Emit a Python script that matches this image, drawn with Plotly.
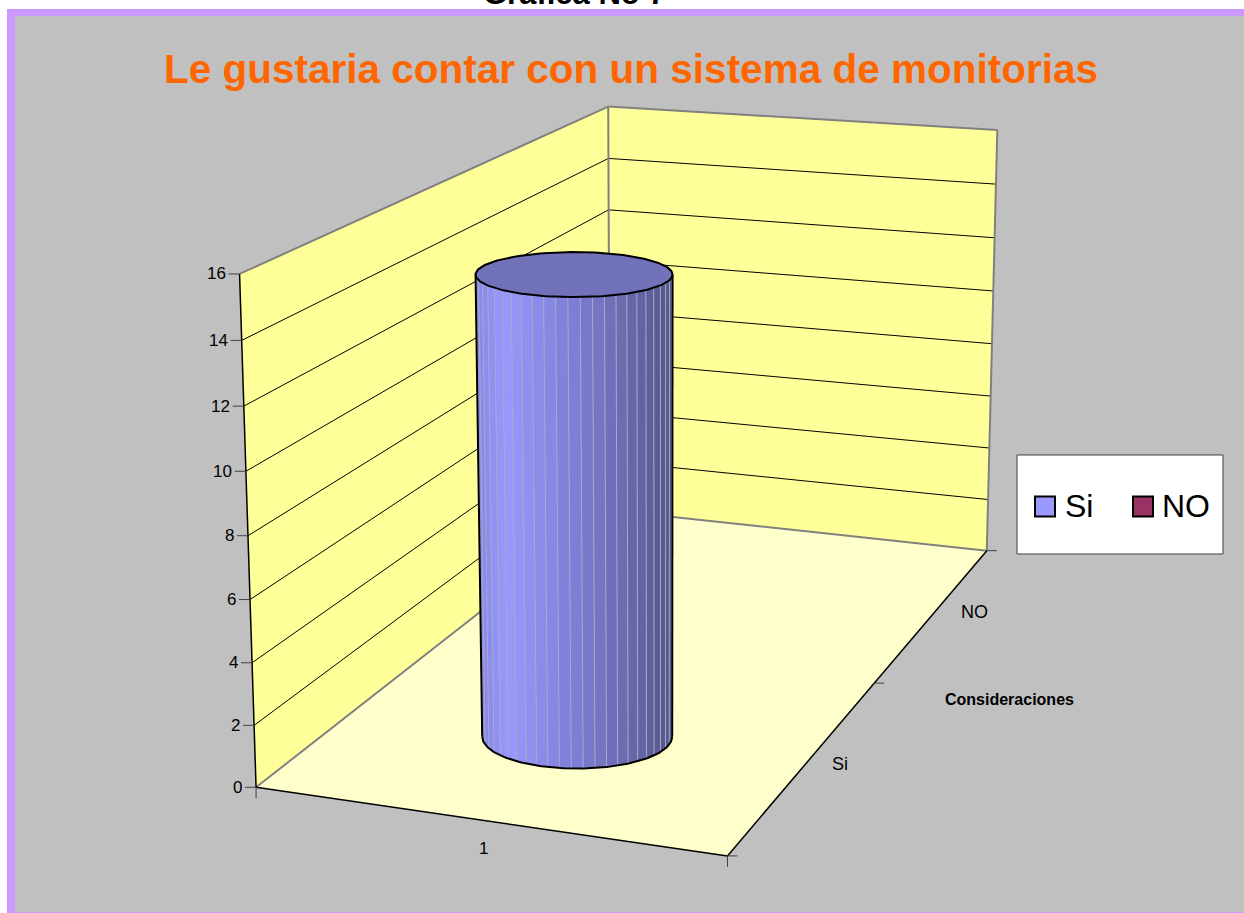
import numpy as np
import plotly.graph_objects as go

# ---- chart data -------------------------------------------------------
title_text = "Le gustaria contar con un sistema de monitorias"
page_heading = "Gráfica No 7"
series_names = ["Si", "NO"]
series_values = [15, 0]
series_colors = ["#9999FF", "#993366"]
value_ticks = [0, 2, 4, 6, 8, 10, 12, 14, 16]
category_label = "1"
depth_title = "Consideraciones"

# ---- camera of the 3-D box: (x, depth, value) -> page pixel -----------
left_y = [787, 725, 663, 600, 535, 471, 406, 340, 274]
back_y = [510, 462, 413, 362, 312, 261, 209, 158, 106]
right_y = [549, 498, 448, 396, 343, 291, 238, 185, 131]
calib_box = [(1, 0, 0)] * 4 + [(1, 0.5, 0)]
calib_page = [(727, 856)] * 4 + [(876, 685)]
for i, v in enumerate(value_ticks):
    calib_box += [(0, 0, v), (0, 1, v), (1, 1, v)]
    calib_page += [(257 - 18 * v / 16, left_y[i]), (609, back_y[i]), (987 + 10 * v / 16, right_y[i])]
A, B = [], []
for (X, Y, Z), (u, v) in zip(calib_box, calib_page):
    A.append([X, Y, Z, 1, 0, 0, 0, 0, -u * X, -u * Y, -u * Z]); B.append(u)
    A.append([0, 0, 0, 0, X, Y, Z, 1, -v * X, -v * Y, -v * Z]); B.append(v)
sol = np.linalg.lstsq(np.array(A, float), np.array(B, float), rcond=None)[0]
CAM = np.append(sol, 1).reshape(3, 4)


def proj(x, d, z):
    x, d, z = np.broadcast_arrays(np.asarray(x, float), np.asarray(d, float), np.asarray(z, float))
    p = np.stack([x, d, z, np.ones_like(x)])
    q = CAM @ p.reshape(4, -1)
    return (q[0] / q[2]).tolist(), (q[1] / q[2]).tolist()


GRAY = "#808080"
fig = go.Figure()


def poly(corners, fill):
    xs, ys = proj(*np.array(corners + [corners[0]], float).T)
    fig.add_trace(go.Scatter(x=xs, y=ys, mode="lines", fill="toself", fillcolor=fill,
                             line=dict(color=fill, width=0), hoverinfo="skip", showlegend=False))


def seg(a, b, color="black", width=1):
    xs, ys = proj(*np.array([a, b], float).T)
    fig.add_trace(go.Scatter(x=xs, y=ys, mode="lines", line=dict(color=color, width=width),
                             hoverinfo="skip", showlegend=False))


def pline(xs, ys, color="black", width=1):
    fig.add_trace(go.Scatter(x=list(xs), y=list(ys), mode="lines", line=dict(color=color, width=width),
                             hoverinfo="skip", showlegend=False))


zmax = value_ticks[-1]
poly([(0, 0, 0), (0, 1, 0), (0, 1, zmax), (0, 0, zmax)], "#FFFF99")
poly([(0, 1, 0), (1, 1, 0), (1, 1, zmax), (0, 1, zmax)], "#FFFF99")
poly([(0, 0, 0), (1, 0, 0), (1, 1, 0), (0, 1, 0)], "#FFFFCC")

for v in value_ticks[1:-1]:
    seg((0, 0, v), (0, 1, v))
    seg((0, 1, v), (1, 1, v))

# wall frames
seg((0, 0, zmax), (0, 1, zmax), GRAY, 2)
seg((0, 1, zmax), (1, 1, zmax), GRAY, 2)
seg((0, 1, 0), (0, 1, zmax), GRAY, 2)
seg((1, 1, 0), (1, 1, zmax), GRAY, 2)
seg((0, 0, 0), (0, 1, 0), GRAY, 2)
seg((0, 1, 0), (1, 1, 0), GRAY, 2)
seg((0, 0, 0), (0, 0, zmax), "black", 1.5)
seg((0, 0, 0), (1, 0, 0), "black", 1.5)
seg((1, 0, 0), (1, 1, 0), "black", 1.5)

# cylinder for "Si": centres come from the value, the caps are screen-aligned ellipses
cx, cd = 0.505, 0.24
rb = (95, 32)
rt = (98.5, 22.5)
h = series_values[0]
bcx, bcy = [p[0] for p in proj(cx, cd, 0)]
tcx, tcy = [p[0] for p in proj(cx, cd, h)]
grad_t = [0, 0.14, 0.5, 0.75, 1]
grad_r = [0x88, 0x99, 0x7E, 0x6C, 0x55]
grad_g = [0x88, 0x99, 0x7E, 0x6C, 0x55]
grad_b = [0xE8, 0xFF, 0xD6, 0xB0, 0x88]


def cap(cxp, cyp, r, a):
    return cxp + r[0] * np.cos(a), cyp - r[1] * np.sin(a)


n = 25
edges = np.linspace(np.pi, 2 * np.pi, n + 1)
for i in range(n):
    a0, a1 = edges[i], edges[i + 1]
    t = (np.cos((a0 + a1) / 2) + 1) / 2
    col = "rgb(%d,%d,%d)" % (np.interp(t, grad_t, grad_r), np.interp(t, grad_t, grad_g), np.interp(t, grad_t, grad_b))
    arc = np.linspace(a0, a1, 5)
    xb, yb = cap(bcx, bcy, rb, arc)
    xt, yt = cap(tcx, tcy, rt, arc)
    xs = np.concatenate([xb, xt[::-1], xb[:1]]).tolist()
    ys = np.concatenate([yb, yt[::-1], yb[:1]]).tolist()
    fig.add_trace(go.Scatter(x=xs, y=ys, mode="lines", fill="toself", fillcolor=col,
                             line=dict(color=col, width=0.5), hoverinfo="skip", showlegend=False))
for a in edges[1:-1]:
    xb, yb = cap(bcx, bcy, rb, a)
    xt, yt = cap(tcx, tcy, rt, a)
    pline([xb, xt], [yb, yt], "#A8A8CC", 1)
th = np.linspace(0, 2 * np.pi, 181)
xt, yt = cap(tcx, tcy, rt, th)
fig.add_trace(go.Scatter(x=xt.tolist(), y=yt.tolist(), mode="lines", fill="toself", fillcolor="#7272BB",
                         line=dict(color="black", width=2), hoverinfo="skip", showlegend=False))
arc = np.linspace(np.pi, 2 * np.pi, 91)
xb, yb = cap(bcx, bcy, rb, arc)
pline(xb, yb, "black", 2)
pline([bcx - rb[0], tcx - rt[0]], [bcy, tcy], "black", 2)
pline([bcx + rb[0], tcx + rt[0]], [bcy, tcy], "black", 2)

# axis ticks
annots = []
TICK = "#404040"
for v in value_ticks:
    xs, ys = proj(0, 0, v)
    pline([xs[0] - 11, xs[0]], [ys[0], ys[0]], TICK)
    annots.append(dict(x=xs[0] - 14, y=ys[0], text=str(v), xanchor="right", yanchor="middle",
                       font=dict(size=17, color="black")))
for x in (0, 1):
    xs, ys = proj(x, 0, 0)
    pline([xs[0], xs[0]], [ys[0], ys[0] + 11], TICK)
for d in (0, 0.5, 1):
    xs, ys = proj(1, d, 0)
    pline([xs[0], xs[0] + 10], [ys[0], ys[0]], TICK)

xs, ys = proj(0.5, 0, 0)
annots.append(dict(x=xs[0] - 2, y=ys[0] + 28, text=category_label, xanchor="center", yanchor="middle",
                   font=dict(size=17, color="black")))
for name, d, off, dy in zip(series_names, (0.25, 0.75), (34, 40), (1, -1)):
    xs, ys = proj(1, d, 0)
    annots.append(dict(x=xs[0] + off, y=ys[0] + dy, text=name, xanchor="center", yanchor="middle",
                       font=dict(size=18, color="black")))
annots.append(dict(x=1009, y=699, text="<b>%s</b>" % depth_title, xanchor="center", yanchor="middle",
                   font=dict(size=16, color="black")))
annots.append(dict(x=631, y=69, text="<b>%s</b>" % title_text, xanchor="center", yanchor="middle",
                   font=dict(size=40.5, color="#FF6600")))
annots.append(dict(x=574.5, y=11, text="<b>%s</b>" % page_heading, xanchor="center", yanchor="bottom",
                   font=dict(size=31, color="black")))

# legend key inside its white box
for name, col, mx, tx in zip(series_names, series_colors, (1045, 1143), (1065, 1162)):
    fig.add_trace(go.Scatter(x=[mx], y=[506.5], mode="markers", name=name, showlegend=False, hoverinfo="name",
                             marker=dict(symbol="square", size=20, color=col, line=dict(color="black", width=2))))
    annots.append(dict(x=tx, y=506, text=name, xanchor="left", yanchor="middle", font=dict(size=32, color="black")))

for a in annots:
    a.update(xref="x", yref="y", showarrow=False, borderpad=0, borderwidth=0, align="center")

W, H = 1244, 913
shapes = [
    dict(type="rect", xref="x", yref="y", x0=7, x1=1244, y0=9, y1=913, fillcolor="#CC99FF", line_width=0, layer="below"),
    dict(type="rect", xref="x", yref="y", x0=15, x1=1244, y0=16, y1=912, fillcolor="#C0C0C0", line_width=0, layer="below"),
    dict(type="rect", xref="x", yref="y", x0=1017, x1=1223, y0=455, y1=554, fillcolor="white",
         line=dict(color="#404040", width=1), layer="below"),
]
fig.update_layout(
    width=W, height=H, margin=dict(l=0, r=0, t=0, b=0), paper_bgcolor="white", plot_bgcolor="rgba(0,0,0,0)",
    font=dict(family="Liberation Sans", color="black"),
    xaxis=dict(range=[0, W], visible=False, fixedrange=True),
    yaxis=dict(range=[H, 0], visible=False, fixedrange=True),
    shapes=shapes, annotations=annots, showlegend=False,
)
fig.write_html("out.html", config={"displayModeBar": False},
               post_script="document.body.style.margin='0';document.body.style.overflow='hidden';")
